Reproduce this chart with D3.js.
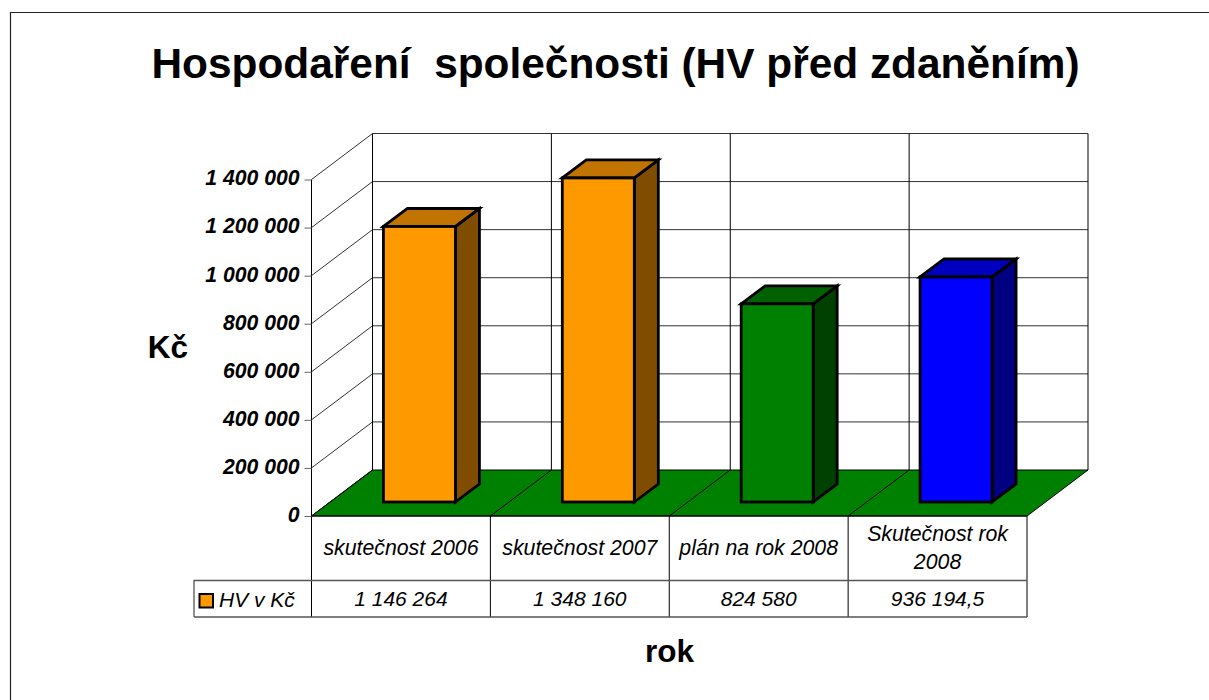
<!DOCTYPE html>
<html>
<head>
<meta charset="utf-8">
<script src="https://cdn.jsdelivr.net/npm/d3@7"></script>
<style>
body { margin: 0; background: #fff; }
svg { display: block; }
text { font-family: "Liberation Sans", Arial, sans-serif; fill: #000; }
</style>
</head>
<body>
<svg id="chart" width="1209" height="700"></svg>
<script>
const categories = [['skutečnost 2006'], ['skutečnost 2007'], ['plán na rok 2008'], ['Skutečnost rok', '2008']]
const values = [1146264, 1348160, 824580, 936194.5]
const valueLabels = ['1 146 264', '1 348 160', '824 580', '936 194,5']
const faceColors = ['#ff9900', '#ff9900', '#008000', '#0000ff']
const topColors = ['#c17400', '#c17400', '#006100', '#0000c1']
const sideColors = ['#804d00', '#804d00', '#004000', '#000080']
const yTicks = [0, 200000, 400000, 600000, 800000, 1000000, 1200000, 1400000]
const seriesName = 'HV v Kč'

const svg = d3.select('#chart')

// plot box of the front plane, the rest hangs off it
const front = {left: 311.5, right: 1027, top: 179.5, bottom: 516}
const wall = {dx: 61, dy: -46}
const depth = {dx: 24, dy: -18}
const rowLine = 580.5
const tableBottom = 617
const tableLeft = 194

const x = d3.scaleBand().domain(d3.range(categories.length)).range([front.left, front.right])
const y = d3.scaleLinear().domain([0, 1400000]).range([front.bottom, front.top])
const barWidth = 72
const floorDx = (wall.dx - depth.dx) / 2
const floorDy = (wall.dy - depth.dy) / 2

const poly = pts => 'M' + pts.map(p => p.join(',')).join('L') + 'Z'
const fmt = v => d3.format(',')(v).replace(/,/g, ' ')

// outer frame, open to the right edge
svg.append('path')
    .attr('d', 'M1209,12.5H10.5V700')
    .attr('fill', 'none').attr('stroke', '#222').attr('stroke-width', 1.2)

svg.append('text')
    .attr('x', 615.5).attr('y', 78)
    .attr('text-anchor', 'middle')
    .style('font-size', '42.4px').style('font-weight', 'bold').style('white-space', 'pre')
    .text('Hospodaření  společnosti (HV před zdaněním)')

// floor
svg.append('path')
    .attr('d', poly([
        [front.left, front.bottom], [front.right, front.bottom],
        [front.right + wall.dx, front.bottom + wall.dy], [front.left + wall.dx, front.bottom + wall.dy]
    ]))
    .attr('fill', '#008000')

const grid = svg.append('g').attr('fill', 'none').attr('stroke', '#000').attr('stroke-width', 1)

// gridlines on the side wall and the back wall
yTicks.forEach(t => {
    const py = y(t)
    grid.append('path')
        .attr('d', `M${front.left},${py}L${front.left + wall.dx},${py + wall.dy}H${front.right + wall.dx}`)
        .attr('stroke', t === 0 ? '#000' : '#333')
})
grid.append('line')
    .attr('x1', front.left).attr('x2', front.left)
    .attr('y1', y(1400000)).attr('y2', tableBottom)

// verticals on the back wall and the floor, and down through the table
const edges = d3.range(categories.length + 1).map(i => front.left + i * x.bandwidth())
edges.forEach((ex, i) => {
    grid.append('line')
        .attr('x1', ex + wall.dx).attr('x2', ex + wall.dx)
        .attr('y1', y(1400000) + wall.dy).attr('y2', front.bottom + wall.dy)
    grid.append('line')
        .attr('x1', ex).attr('x2', ex + wall.dx)
        .attr('y1', front.bottom).attr('y2', front.bottom + wall.dy)
    grid.append('line')
        .attr('x1', ex).attr('x2', ex)
        .attr('y1', front.bottom).attr('y2', tableBottom)
})

grid.append('line')
    .attr('x1', front.left).attr('x2', front.right)
    .attr('y1', front.bottom).attr('y2', front.bottom)
    .attr('stroke-width', 1.5)
grid.append('path')
    .attr('d', `M${tableLeft},${tableBottom}V${rowLine}H${front.right}M${tableLeft},${tableBottom}H${front.right}`)
    .attr('stroke', '#555').attr('stroke-width', 1.3)

// value axis
const axis = d3.axisLeft(y).tickValues(yTicks).tickSize(7).tickPadding(5).tickFormat(fmt)
const axisG = svg.append('g').attr('transform', `translate(${front.left},0)`).call(axis)
axisG.select('.domain').remove()
axisG.selectAll('.tick line').attr('stroke', '#666')
axisG.selectAll('.tick text')
    .attr('y', -2)
    .attr('dy', '0.35em')
    .style('font-family', '"Liberation Sans", Arial, sans-serif')
    .style('font-size', '21.2px').style('font-weight', 'bold').style('font-style', 'italic')
    .attr('fill', '#000')

// bars
const bars = svg.append('g').selectAll('g').data(values).enter().append('g')
    .attr('stroke', '#000').attr('stroke-width', 2.8).attr('stroke-linejoin', 'miter')

const barX = i => x(i) + (x.bandwidth() - barWidth) / 2 + floorDx
const baseY = front.bottom + floorDy
const topY = v => y(v) + floorDy

bars.append('path')
    .attr('fill', (d, i) => sideColors[i])
    .attr('d', (d, i) => poly([
        [barX(i) + barWidth, topY(d)], [barX(i) + barWidth + depth.dx, topY(d) + depth.dy],
        [barX(i) + barWidth + depth.dx, baseY + depth.dy], [barX(i) + barWidth, baseY]
    ]))
bars.append('path')
    .attr('fill', (d, i) => topColors[i])
    .attr('d', (d, i) => poly([
        [barX(i), topY(d)], [barX(i) + depth.dx, topY(d) + depth.dy],
        [barX(i) + barWidth + depth.dx, topY(d) + depth.dy], [barX(i) + barWidth, topY(d)]
    ]))
bars.append('rect')
    .attr('fill', (d, i) => faceColors[i])
    .attr('x', (d, i) => barX(i)).attr('y', d => topY(d))
    .attr('width', barWidth).attr('height', d => baseY - topY(d))

// data table
const cellFont = sel => sel.style('font-size', '21px').style('font-style', 'italic').attr('text-anchor', 'middle')

categories.forEach((lines, i) => {
    const cx = x(i) + x.bandwidth() / 2
    lines.forEach((line, j) => {
        svg.append('text')
            .attr('x', cx)
            .attr('y', (lines.length === 1 ? 555 : 541) + j * 28)
            .call(cellFont)
            .style('font-size', '21.3px')
            .text(line)
    })
    svg.append('text')
        .attr('x', cx).attr('y', 606)
        .call(cellFont)
        .text(valueLabels[i])
})

svg.append('rect')
    .attr('x', 199.5).attr('y', 594)
    .attr('width', 13.5).attr('height', 13.5)
    .attr('fill', faceColors[0]).attr('stroke', '#000').attr('stroke-width', 2)
svg.append('text')
    .attr('x', 219).attr('y', 607)
    .style('font-size', '21px').style('font-style', 'italic')
    .text(seriesName)

// axis titles
svg.append('text')
    .attr('x', 168).attr('y', 358)
    .attr('text-anchor', 'middle')
    .style('font-size', '31.5px').style('font-weight', 'bold')
    .text('Kč')
svg.append('text')
    .attr('x', 669.5).attr('y', 662)
    .attr('text-anchor', 'middle')
    .style('font-size', '31.5px').style('font-weight', 'bold')
    .text('rok')
</script>
</body>
</html>
